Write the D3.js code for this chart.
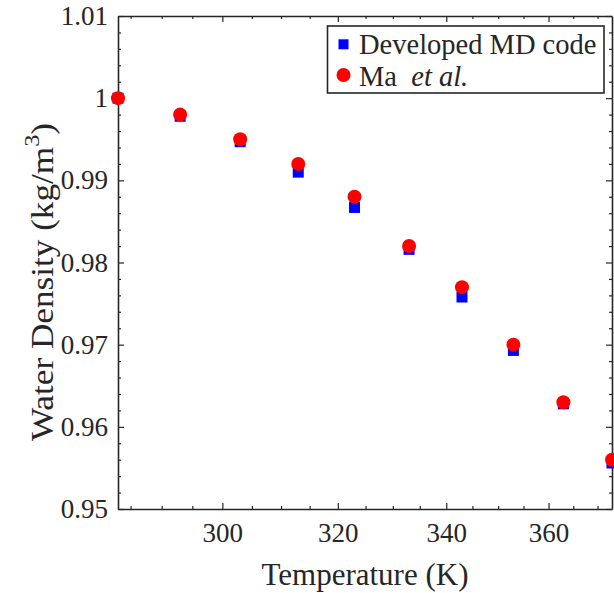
<!DOCTYPE html>
<html>
<head>
<meta charset="utf-8">
<script src="https://cdn.jsdelivr.net/npm/d3@7"></script>
<style>
  html, body { margin: 0; padding: 0; background: #fff; }
</style>
</head>
<body>
<svg id="chart" width="614" height="593"></svg>
<script>
// Temperatures (K)
const temperature = [283, 293, 303, 313, 323, 333, 343, 353, 363, 373];
// Density from the developed MD code
const mdDensity = [1.0000, 0.9978, 0.9947, 0.9910, 0.9867, 0.9816, 0.9758, 0.9693, 0.9628, 0.9556];
// Density reported by Ma et al.
const maDensity = [1.000, 0.998, 0.995, 0.992, 0.988, 0.982, 0.977, 0.970, 0.963, 0.956];

const xTicks = [300, 320, 340, 360];
const xMinorTicks = [285, 290, 295, 305, 310, 315, 325, 330, 335, 345, 350, 355, 365, 370];
const yTicks = [0.95, 0.96, 0.97, 0.98, 0.99, 1.00, 1.01];
const yMinorTicks = d3.range(0, 31).map(i => 0.95 + i * 0.002).filter(v => Math.round(v * 1000) % 10 !== 0);

const FONT = "'Liberation Serif', 'Times New Roman', Times, serif";
const axisColor = "#262626";

const svg = d3.select("#chart");
const m = { left: 118, top: 16, right: 612, bottom: 509 };

const x = d3.scaleLog().domain([283, 373]).range([m.left, m.right]);
const y = d3.scaleLinear().domain([0.95, 1.01]).range([m.bottom, m.top]);

const fmtY = d => String(+d.toFixed(2));

// Bottom axis
const gB = svg.append("g").attr("transform", `translate(0,${m.bottom})`);
gB.call(d3.axisBottom(x).tickValues(xTicks).tickFormat(d3.format("d")).tickSizeInner(-6).tickSizeOuter(0).tickPadding(14));
gB.append("g").call(d3.axisBottom(x).tickValues(xMinorTicks).tickFormat("").tickSizeInner(-3).tickSizeOuter(0))
  .select(".domain").remove();

// Top axis (mirrored ticks)
const gT = svg.append("g").attr("transform", `translate(0,${m.top})`);
gT.call(d3.axisTop(x).tickValues(xTicks).tickFormat("").tickSizeInner(-6).tickSizeOuter(0));
gT.append("g").call(d3.axisTop(x).tickValues(xMinorTicks).tickFormat("").tickSizeInner(-3).tickSizeOuter(0))
  .select(".domain").remove();

// Left axis
const gL = svg.append("g").attr("transform", `translate(${m.left},0)`);
gL.call(d3.axisLeft(y).tickValues(yTicks).tickFormat(fmtY).tickSizeInner(-6).tickSizeOuter(0).tickPadding(10));
gL.append("g").call(d3.axisLeft(y).tickValues(yMinorTicks).tickFormat("").tickSizeInner(-3).tickSizeOuter(0))
  .select(".domain").remove();

// Right axis (mirrored ticks)
const gR = svg.append("g").attr("transform", `translate(${m.right},0)`);
gR.call(d3.axisRight(y).tickValues(yTicks).tickFormat("").tickSizeInner(-6).tickSizeOuter(0));
gR.append("g").call(d3.axisRight(y).tickValues(yMinorTicks).tickFormat("").tickSizeInner(-3).tickSizeOuter(0))
  .select(".domain").remove();

svg.selectAll(".domain").attr("stroke", axisColor).attr("stroke-width", 1.6);
svg.selectAll(".tick line").attr("stroke", axisColor).attr("stroke-width", 1.2);
svg.selectAll(".tick text").attr("font-size", 27).attr("fill", axisColor).attr("font-family", FONT);

// Markers: squares for the MD code, circles for Ma et al.
const sq = 11;
svg.append("g").selectAll("rect").data(temperature).join("rect")
  .attr("x", d => x(d) - sq / 2)
  .attr("y", (d, i) => y(mdDensity[i]) - sq / 2)
  .attr("width", sq).attr("height", sq)
  .attr("fill", "#0000ff");

svg.append("g").selectAll("circle").data(temperature).join("circle")
  .attr("cx", d => x(d))
  .attr("cy", (d, i) => y(maDensity[i]))
  .attr("r", 7)
  .attr("fill", "#ff0000");

// Axis titles
svg.append("text")
  .attr("x", 365).attr("y", 585)
  .attr("text-anchor", "middle").attr("font-size", 31)
  .attr("font-family", FONT).attr("fill", axisColor)
  .text("Temperature (K)");

const yl = svg.append("text")
  .attr("transform", "translate(53,282) rotate(-90) scale(1.1,1)")
  .attr("text-anchor", "middle").attr("font-size", 32)
  .attr("font-family", FONT).attr("fill", axisColor);
yl.append("tspan").text("Water Density (kg/m");
yl.append("tspan").attr("font-size", 22).attr("dy", -14).text("3");
yl.append("tspan").attr("dy", 14).text(")");

// Legend
const lg = svg.append("g").attr("font-family", FONT).attr("fill", axisColor);
lg.append("rect").attr("x", 327.5).attr("y", 26).attr("width", 276.5).attr("height", 67)
  .attr("fill", "#fff").attr("stroke", axisColor).attr("stroke-width", 1.6);
lg.append("rect").attr("x", 343.5 - 5).attr("y", 44.3 - 5).attr("width", 10).attr("height", 10).attr("fill", "#0000ff");
lg.append("circle").attr("cx", 343.5).attr("cy", 75).attr("r", 7).attr("fill", "#ff0000");
lg.append("text").attr("x", 359).attr("y", 54).attr("font-size", 28.5).text("Developed MD code");
const t2 = lg.append("text").attr("x", 359).attr("y", 86).attr("font-size", 28.5).attr("xml:space", "preserve");
t2.append("tspan").text("Ma  ");
t2.append("tspan").attr("font-style", "italic").text("et al.");
</script>
</body>
</html>
